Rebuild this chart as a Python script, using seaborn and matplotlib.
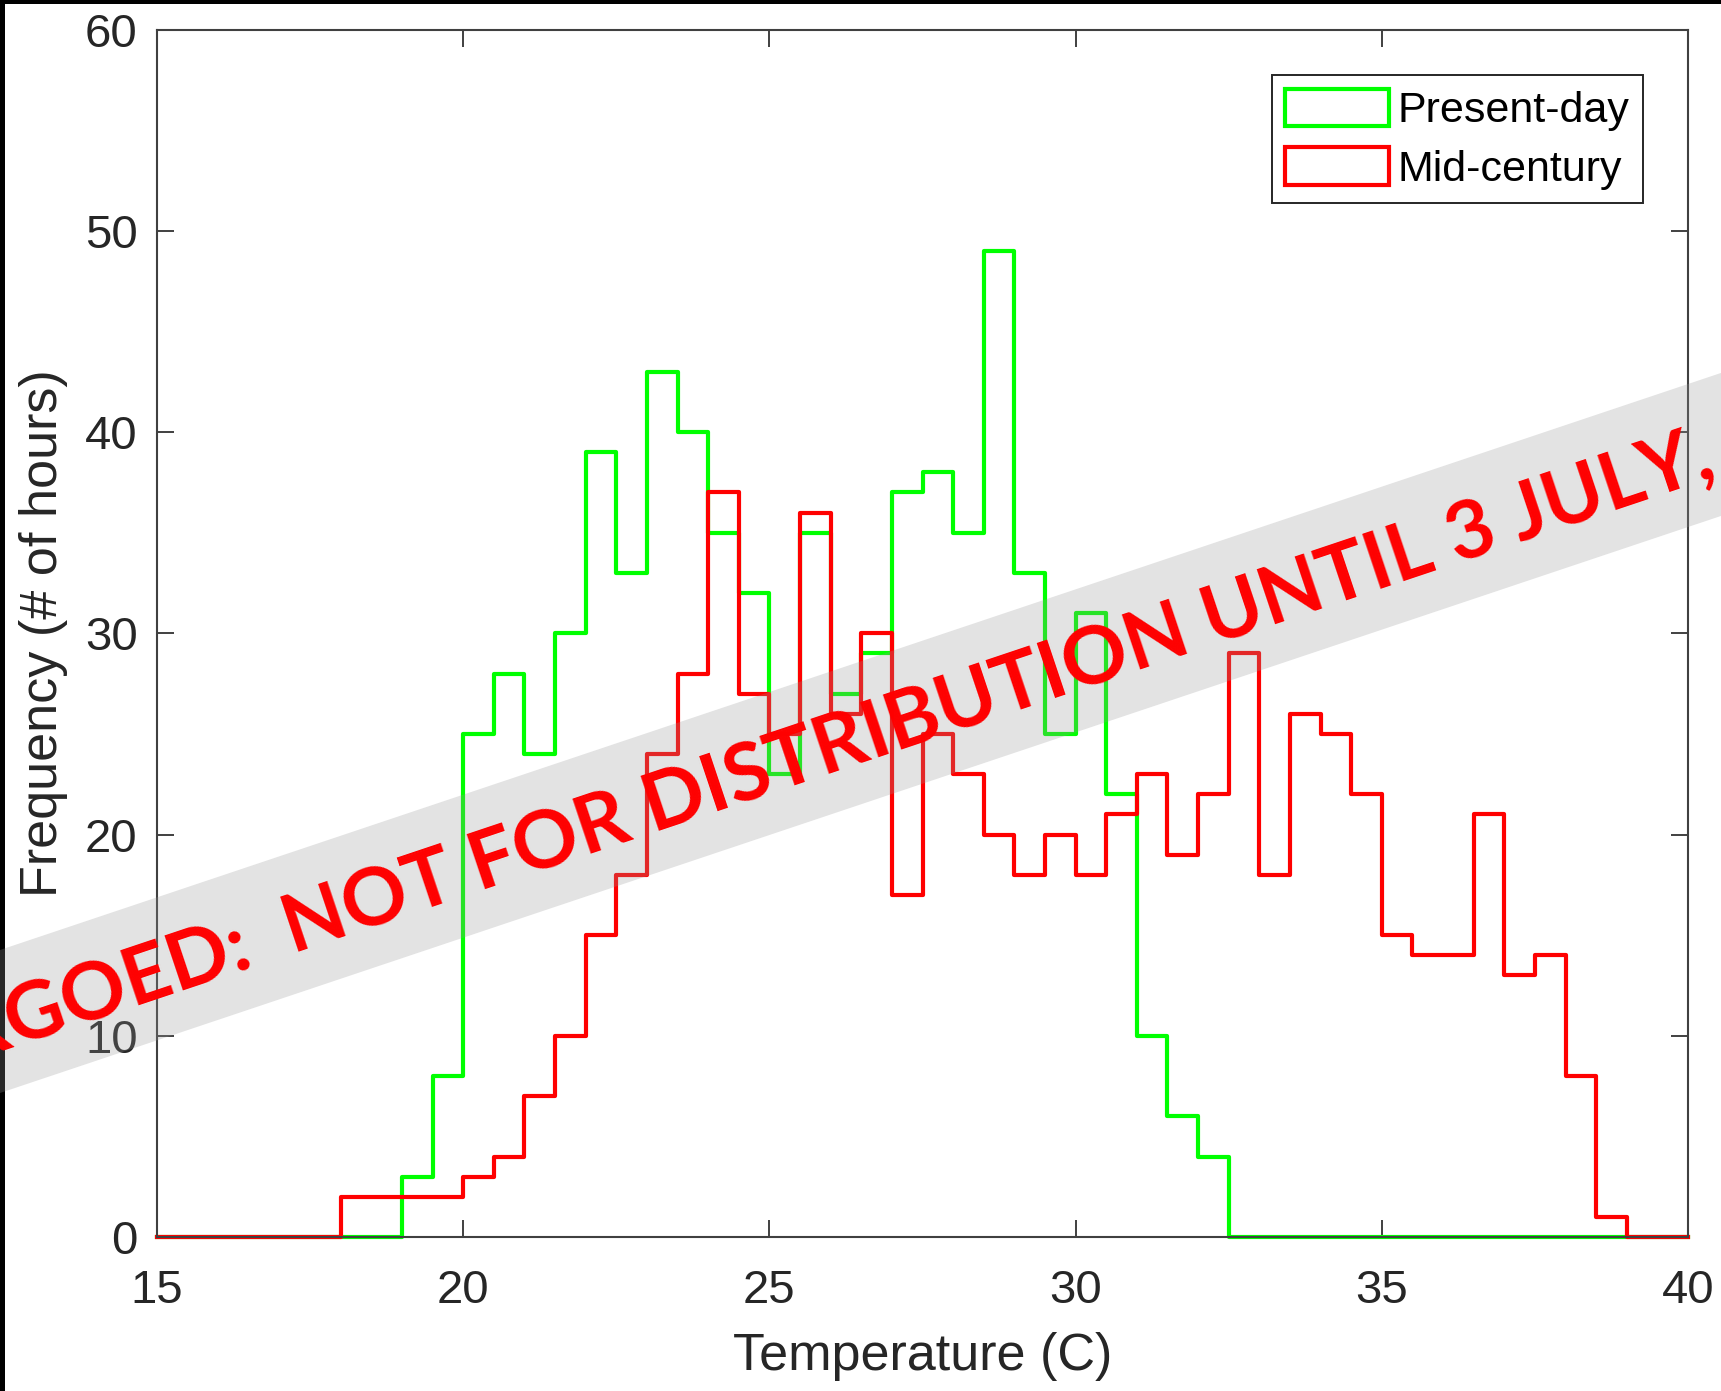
import numpy as np
import pandas as pd
import matplotlib
matplotlib.use("Agg")
import matplotlib.pyplot as plt
import seaborn as sns
from matplotlib.patches import Patch, Polygon, Rectangle

# ---------------- data ----------------
bin_width = 0.5
bin_lower = np.arange(15.0, 40.0, bin_width)          # 50 bins, 15 .. 39.5
present_day = [0, 0, 0, 0, 0, 0, 0, 0,
               3, 8, 25, 28, 24, 30, 39, 33, 43, 40, 35, 32, 23, 35, 27, 29,
               37, 38, 35, 49, 33, 25, 31, 22, 10, 6, 4,
               0, 0, 0, 0, 0, 0, 0, 0, 0, 0, 0, 0, 0, 0, 0]
mid_century = [0, 0, 0, 0, 0, 0,
               2, 2, 2, 2, 3, 4, 7, 10, 15, 18, 24, 28, 37, 27, 25, 36, 26, 30,
               17, 25, 23, 20, 18, 20, 18, 21, 23, 19, 22, 29, 18, 26, 25, 22,
               15, 14, 14, 21, 13, 14, 8, 1,
               0, 0]
series_names = ["Present-day", "Mid-century"]
series_colors = ["#00ff00", "#ff0000"]
x_ticks = [15, 20, 25, 30, 35, 40]
y_ticks = [0, 10, 20, 30, 40, 50, 60]
banner_text = "EMBARGOED:  NOT FOR DISTRIBUTION UNTIL 3 JULY,"

df = pd.DataFrame({
    "temp": np.concatenate([bin_lower + bin_width / 2] * 2),
    "count": np.concatenate([present_day, mid_century]).astype(float),
    "series": np.repeat(series_names, len(bin_lower)),
})
bin_range = (float(bin_lower[0]), float(bin_lower[-1] + bin_width))

# ---------------- figure ----------------
W, H = 1721, 1391
fig = plt.figure(figsize=(W / 100, H / 100), dpi=100)
fig.patch.set_facecolor("white")
ax = fig.add_axes([157 / W, (H - 1237) / H, (1688 - 157) / W, (1237 - 29.6) / H])

txt_col = "#262626"
spine_col = "#404040"
plt.rcParams["font.family"] = ["Liberation Sans", "DejaVu Sans"]

for name, col in zip(series_names, series_colors):
    sub = df[df["series"] == name]
    sns.histplot(data=sub, x="temp", weights="count", binwidth=bin_width,
                 binrange=bin_range, element="step", fill=False, color=col,
                 linewidth=3.0, ax=ax)
for ln in ax.lines:
    ln.set_clip_on(False)

ax.set_xlim(15, 40)
ax.set_ylim(0, 60)
ax.set_xticks(x_ticks)
ax.set_yticks(y_ticks)
ax.set_xticklabels([str(t) for t in x_ticks], family="Liberation Sans")
ax.set_yticklabels([str(t) for t in y_ticks], family="Liberation Sans")
ax.tick_params(axis="both", direction="in", length=12, width=1.4,
               top=True, right=True, color=spine_col, labelcolor=txt_col,
               labelsize=34)
ax.tick_params(axis="x", pad=23)
ax.tick_params(axis="y", pad=14)
for sp in ax.spines.values():
    sp.set_color(spine_col)
    sp.set_linewidth(1.5)
    sp.set_visible(True)

ax.set_xlabel("Temperature (C)", fontsize=37.5, color=txt_col,
              family="Liberation Sans", labelpad=14)
ax.set_ylabel("Frequency (# of hours)", fontsize=37.5, color=txt_col,
              family="Liberation Sans", labelpad=12)

handles = [Patch(facecolor="white", edgecolor=c, linewidth=3.0) for c in series_colors]
leg = ax.legend(handles, series_names, loc="upper right",
                bbox_to_anchor=((1643 - 157) / 1531, 1 - (75 - 29.6) / 1207.4),
                borderaxespad=0, handlelength=2.4, handleheight=0.97,
                handletextpad=0.2, borderpad=0.32, labelspacing=0.36,
                fancybox=False, framealpha=1, edgecolor=txt_col,
                prop={"family": "Liberation Sans", "size": 31})
leg.get_frame().set_linewidth(1.4)
for t in leg.get_texts():
    t.set_color("black")

# ---------------- image frame and banner ----------------
fig.add_artist(Rectangle((0, 1 - 4 / H), 1, 4 / H, transform=fig.transFigure,
                         facecolor="black", edgecolor="none", zorder=4))
fig.add_artist(Rectangle((0, 0), 5 / W, 1, transform=fig.transFigure,
                         facecolor="black", edgecolor="none", zorder=4))

slope = 0.3353
def fy(y):
    return 1 - y / H
x0, x1 = -100, W + 100
top0, bot0 = 950, 1093
band = [(x0 / W, fy(top0 - slope * x0)), (x1 / W, fy(top0 - slope * x1)),
        (x1 / W, fy(bot0 - slope * x1)), (x0 / W, fy(bot0 - slope * x0))]
fig.add_artist(Polygon(band, closed=True, transform=fig.transFigure,
                       facecolor=(0.588, 0.588, 0.588), alpha=0.267,
                       edgecolor="none", zorder=5))
fig.text(1718 / W, fy(476), banner_text, color="#ff0000", fontsize=58.5,
         fontweight="bold", family="Lato", rotation=np.degrees(np.arctan(slope)),
         rotation_mode="anchor", ha="right", va="baseline", zorder=6)

fig.savefig("out.png", dpi=100)
